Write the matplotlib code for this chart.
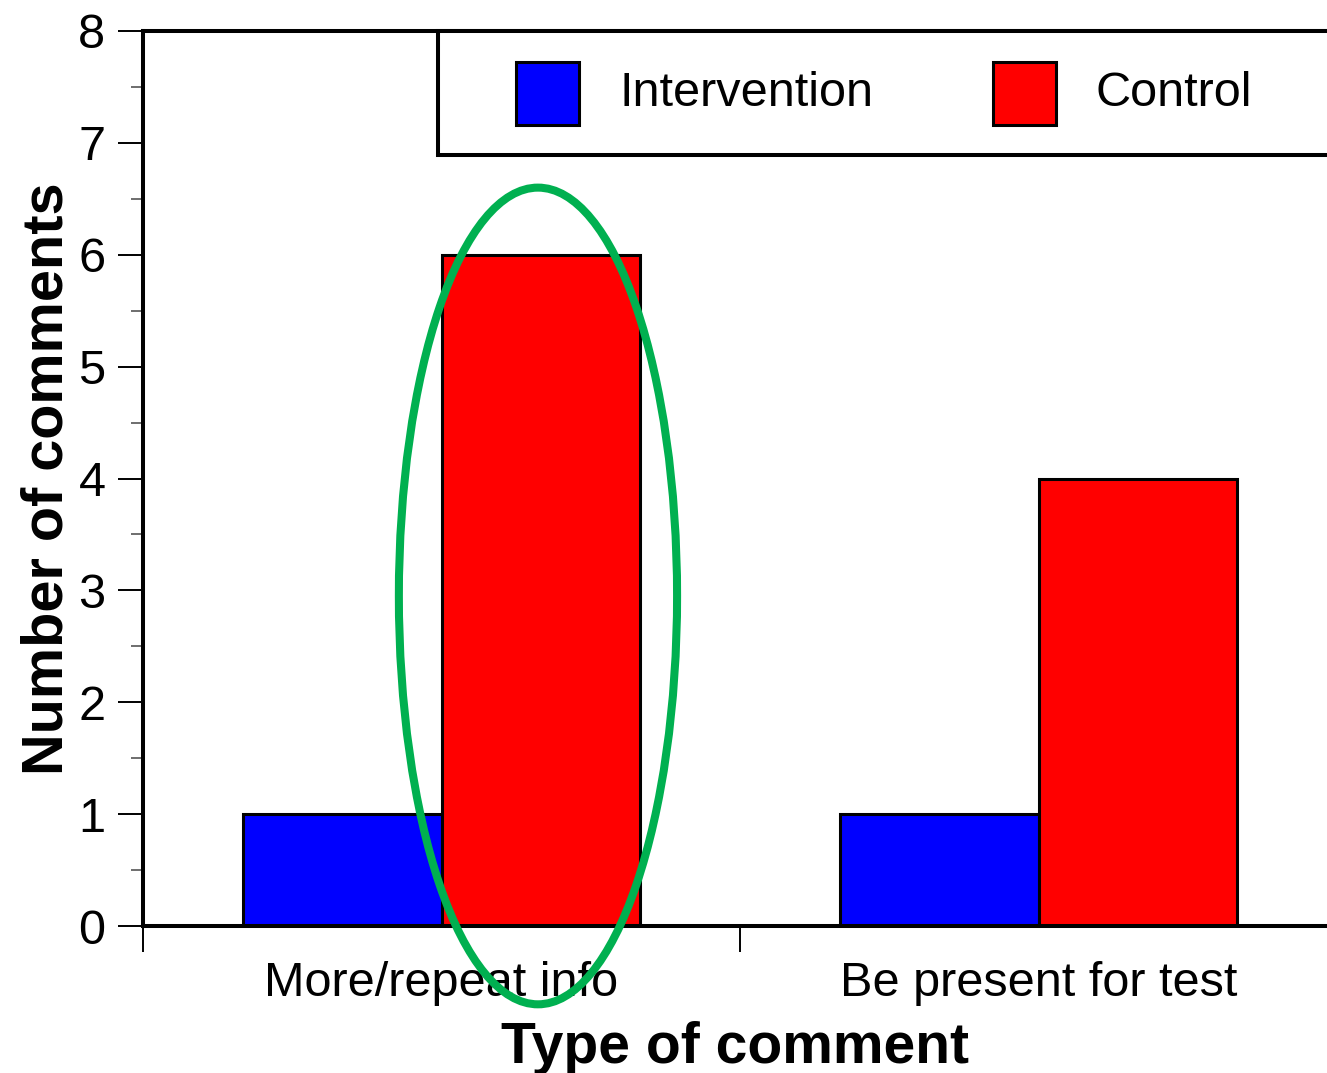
import matplotlib
matplotlib.use("Agg")
import matplotlib.pyplot as plt
from matplotlib.patches import Rectangle, Ellipse

plt.rcParams['font.family'] = ['Liberation Sans', 'DejaVu Sans']

categories = ['More/repeat info', 'Be present for test']
intervention = [1, 1]
control = [6, 4]
series_names = ['Intervention', 'Control']
series_colors = ['#0000FF', '#FF0000']
y_ticks = [0, 1, 2, 3, 4, 5, 6, 7, 8]

W, H = 1327, 1073
fig = plt.figure(figsize=(W / 100, H / 100), dpi=100)

# axes box in pixels: left 143, top 31, bottom 926, runs off the right edge
ax = fig.add_axes([143 / W, 1 - 926 / H, 1184 / W, 895 / H])

bar_w = 0.333
centers = [0.5, 1.5]
for i, c in enumerate(centers):
    ax.bar(c - bar_w / 2, intervention[i], width=bar_w, color=series_colors[0],
           edgecolor='black', linewidth=2.2, zorder=2)
    ax.bar(c + bar_w / 2, control[i], width=bar_w, color=series_colors[1],
           edgecolor='black', linewidth=2.2, zorder=2)

ax.spines['right'].set_visible(False)
for s in ['left', 'top', 'bottom']:
    ax.spines[s].set_linewidth(2.9)
ax.spines['bottom'].set_zorder(3)

ax.set_yticks(y_ticks)
ax.set_yticks([v + 0.5 for v in y_ticks[:-1]], minor=True)
ax.tick_params(axis='y', which='major', length=18, width=1.4, pad=9, labelsize=35)
ax.tick_params(axis='y', which='minor', length=9, width=1.2, color='#555555')

ax.set_xticks(centers)
ax.set_xticklabels(categories)
ax.set_xticks([0, 1, 2], minor=True)
ax.tick_params(axis='x', which='major', length=0, pad=25, labelsize=35)
ax.tick_params(axis='x', which='minor', length=19, width=1.4)

# limits after the ticks, set_xticks would widen them
ax.set_xlim(0, 1184 / 597)
ax.set_ylim(0, 8)

ax.set_ylabel('Number of comments', fontsize=41.5, fontweight='bold', labelpad=3)
ax.set_xlabel('Type of comment', fontsize=41, fontweight='bold', labelpad=11)

# legend box drawn by hand, it runs off the right edge of the figure
def fx(px):
    return px / W

def fy(py):
    return 1 - py / H

fig.patches.append(Rectangle((fx(438), fy(155)), fx(1400) - fx(438), fy(31) - fy(155),
                             transform=fig.transFigure, facecolor='white',
                             edgecolor='black', linewidth=2.9, zorder=5))
swatch_x = [516, 993]
text_x = [619, 1095]
for name, col, sx, tx in zip(series_names, series_colors, swatch_x, text_x):
    fig.patches.append(Rectangle((fx(sx), fy(125)), fx(63), 63 / H,
                                 transform=fig.transFigure, facecolor=col,
                                 edgecolor='black', linewidth=2.2, zorder=6))
    fig.text(fx(tx), fy(93), name, fontsize=35, va='center', ha='left', zorder=7)

# green highlight ellipse round the first control bar
ax.add_patch(Ellipse((0.6616, 2.95), 0.466, 7.30, fill=False,
                     edgecolor='#00B050', linewidth=5.8, zorder=4, clip_on=False))

fig.savefig('out.png', dpi=100)
